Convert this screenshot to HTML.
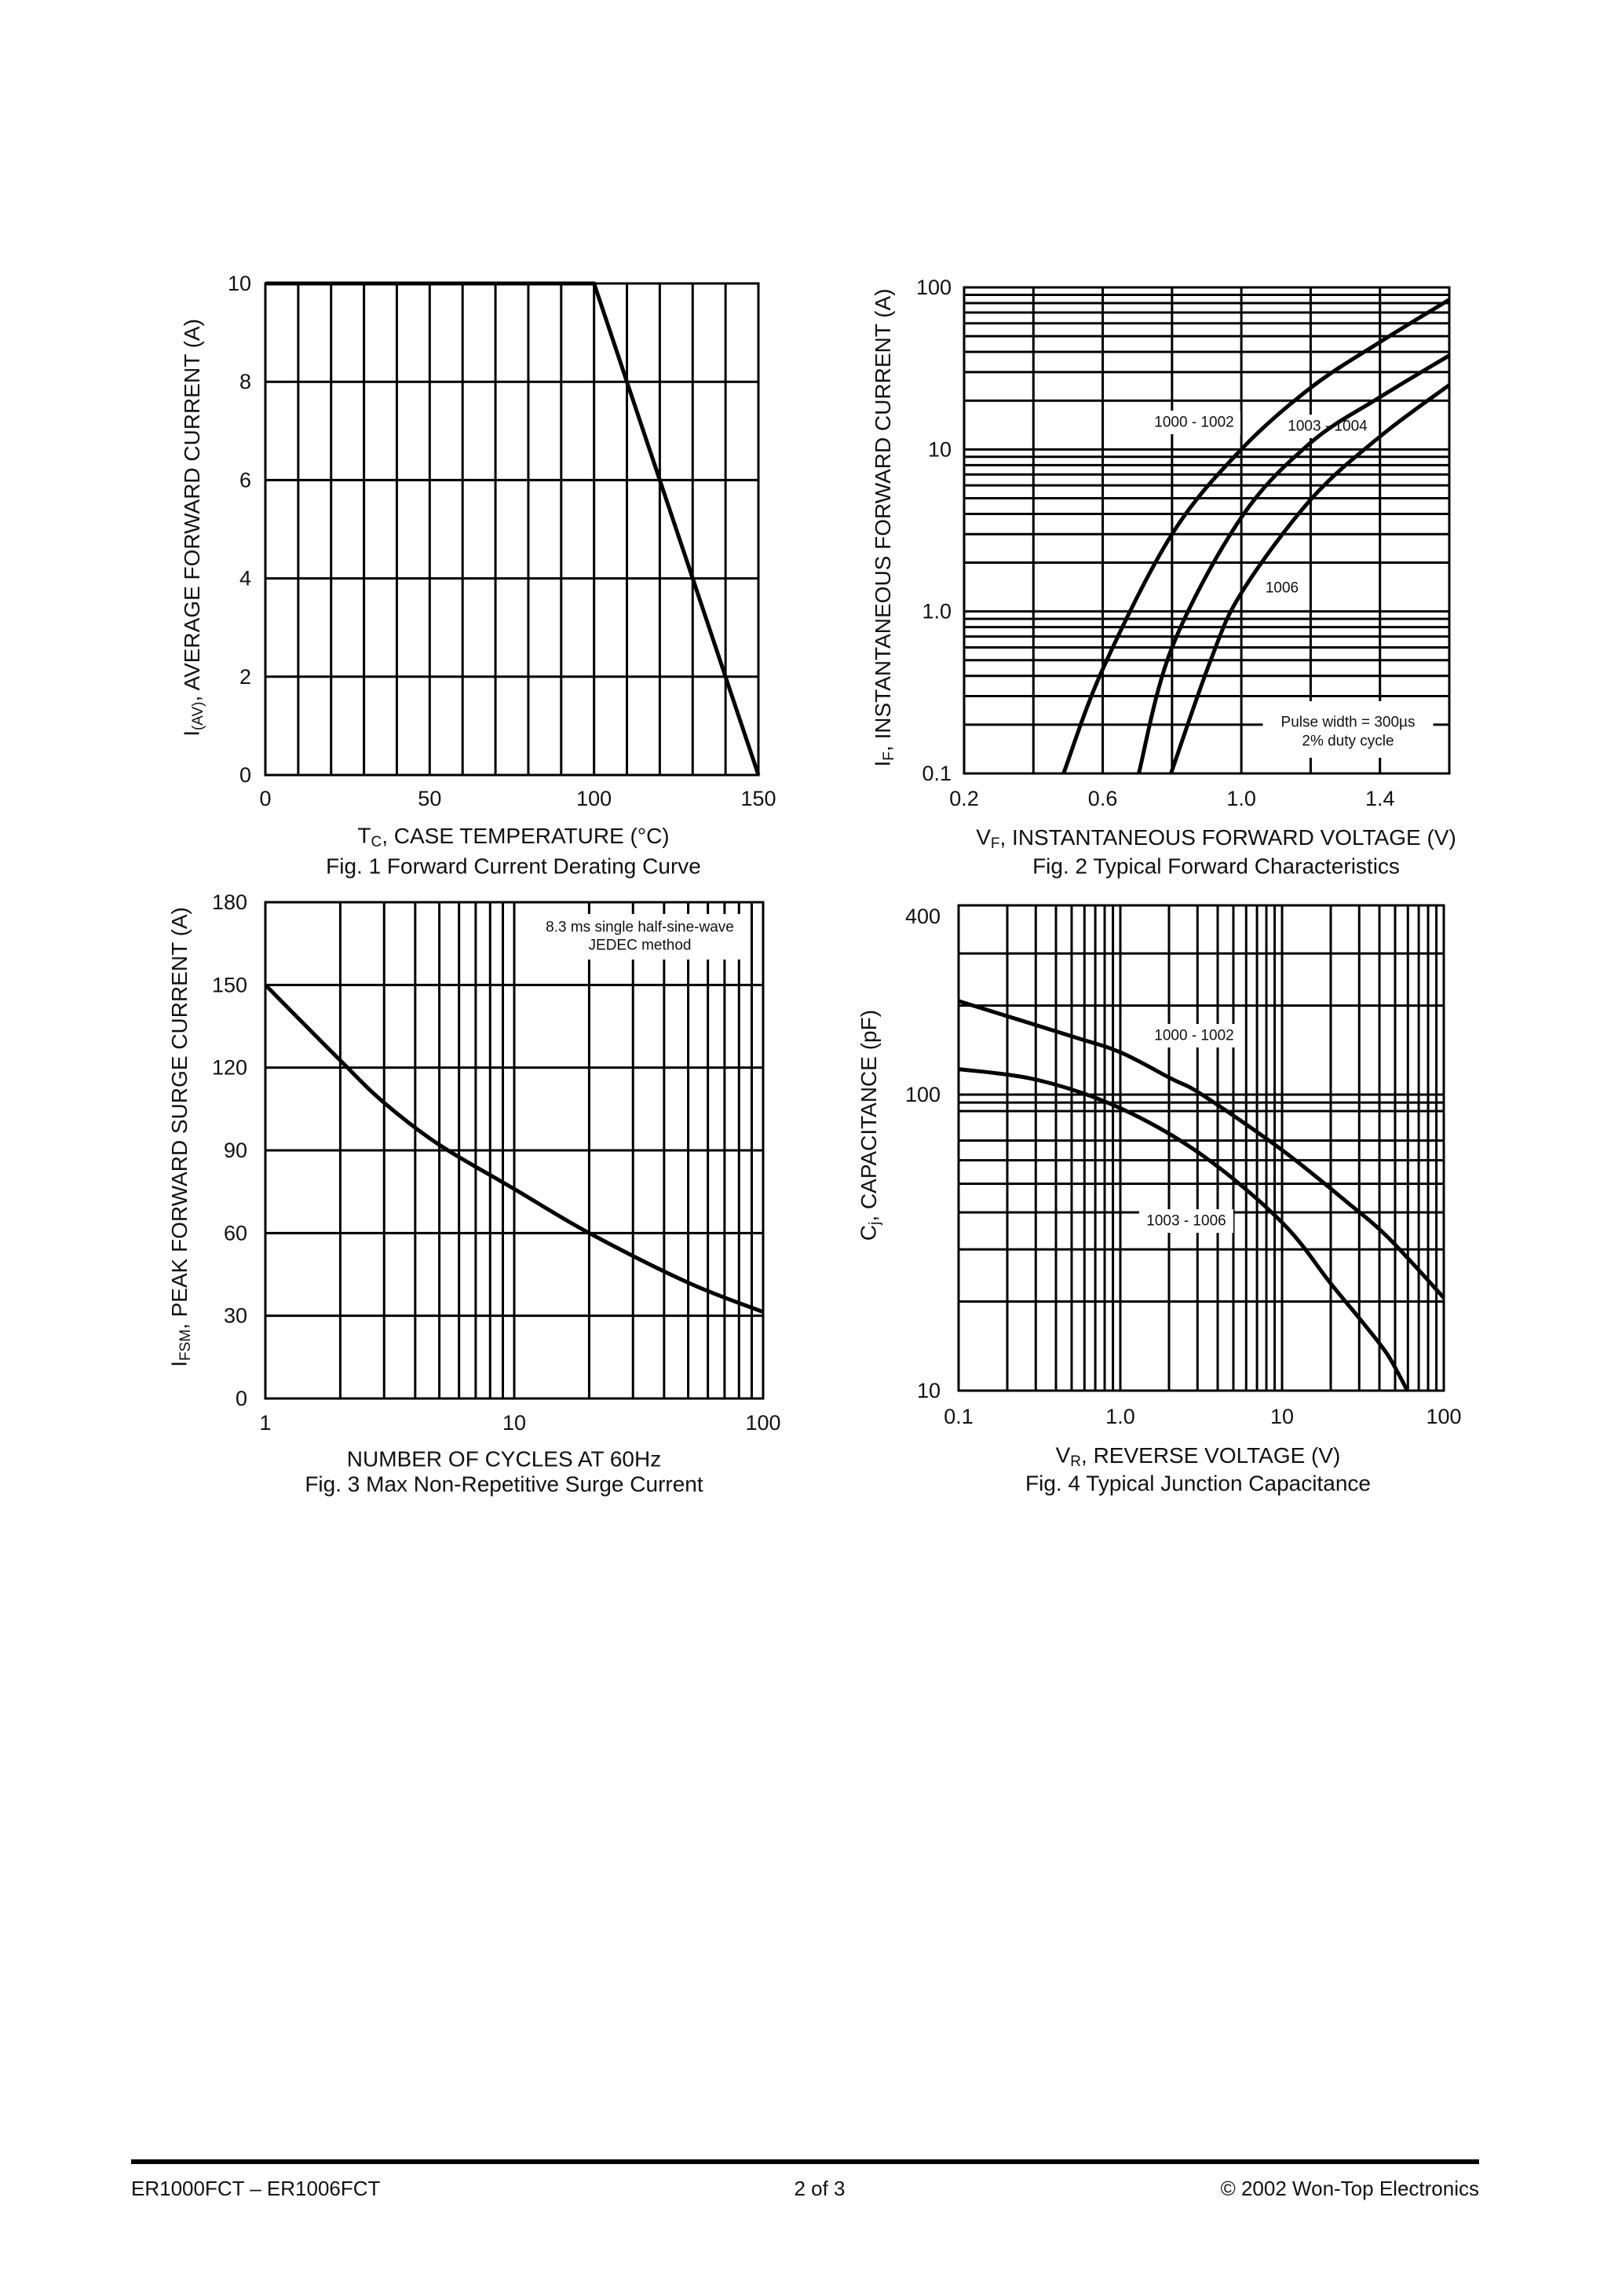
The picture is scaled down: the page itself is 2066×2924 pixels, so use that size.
<!DOCTYPE html>
<html><head><meta charset="utf-8"><style>
html,body{margin:0;padding:0;background:#fff}
svg{display:block}
text{font-family:"Liberation Sans",sans-serif;fill:#111}
</style></head><body>
<svg id="page" width="2066" height="2924" viewBox="0 0 2066 2924" xmlns="http://www.w3.org/2000/svg">
<g id="fig1"></g>
<g id="fig2"></g>
<g id="fig3"></g>
<g id="fig4"></g>
<g>
<rect x="167" y="2750" width="1717" height="6" fill="#000"/>
<text x="167" y="2796" font-size="26">ER1000FCT – ER1006FCT</text>
<text x="1044" y="2796" font-size="26" text-anchor="middle">2 of 3</text>
<text x="1884" y="2796" font-size="26" text-anchor="end">© 2002 Won-Top Electronics</text>
</g>
</svg>
<script>
// ---- Fig 1 data ----
const f1Temp = [0, 100, 110, 120, 130, 140, 150];
const f1Current = [10, 10, 8, 6, 4, 2, 0];
const f1XTicks = [0, 50, 100, 150];
const f1YTicks = [0, 2, 4, 6, 8, 10];
// ---- Fig 2 data ----
const f2V_A = [0.487, 0.6, 0.8, 1.0, 1.2, 1.4, 1.6];
const f2I_A = [0.1, 0.44, 3, 10, 24, 46, 84];
const f2V_B = [0.704, 0.8, 1.0, 1.2, 1.4, 1.6];
const f2I_B = [0.1, 0.6, 3.8, 11, 21, 38];
const f2V_C = [0.797, 0.91, 1.0, 1.2, 1.4, 1.6];
const f2I_C = [0.1, 0.49, 1.3, 4.9, 12, 25];
const f2XTicks = [0.2, 0.6, 1.0, 1.4];
const f2XTickLabels = ["0.2", "0.6", "1.0", "1.4"];
const f2YTicks = [0.1, 1, 10, 100];
const f2YTickLabels = ["0.1", "1.0", "10", "100"];
// ---- Fig 3 data ----
const f3Cycles = [1, 2, 3, 5, 10, 20, 50, 100];
const f3Current = [150, 122.6, 107.3, 92, 76, 60, 42, 31.4];
const f3XTicks = [1, 10, 100];
const f3YTicks = [0, 30, 60, 90, 120, 150, 180];
// ---- Fig 4 data ----
const f4V_A = [0.1, 0.51, 1.0, 2.08, 3.2, 10, 25, 45, 100];
const f4C_A = [207, 157, 139, 113, 100, 65, 43.5, 33, 20.6];
const f4V_B = [0.1, 0.31, 1.0, 3.2, 10, 20, 31.5, 45, 59.5];
const f4C_B = [122, 112, 90, 62.5, 37, 23, 17, 13.2, 10];
const f4XTicks = [0.1, 1, 10, 100];
const f4XTickLabels = ["0.1", "1.0", "10", "100"];
const f4YTicks = [10, 100, 400];
const f4YTickLabels = ["10", "100", "400"];
const f4YGrid = [20, 30, 40, 50, 60, 70, 88, 94, 100, 200, 300];

const NS = "http://www.w3.org/2000/svg";
function mk(parent, tag, attrs, txt){
  const e = document.createElementNS(NS, tag);
  for (const k in attrs) e.setAttribute(k, attrs[k]);
  if (txt !== undefined) e.textContent = txt;
  parent.appendChild(e);
  return e;
}
function linScale(d0,d1,r0,r1){return v=>r0+(v-d0)/(d1-d0)*(r1-r0);}
function logScale(d0,d1,r0,r1){return v=>r0+(Math.log10(v)-Math.log10(d0))/(Math.log10(d1)-Math.log10(d0))*(r1-r0);}
function vline(g,x,y0,y1,w){
  const l = mk(g,'line',{x1:x,x2:x,y1:y0,y2:y1,stroke:'#000','stroke-width':w||3});
  
  
}
function hline(g,y,x0,x1,w){
  const l = mk(g,'line',{x1:x0,x2:x1,y1:y,y2:y,stroke:'#000','stroke-width':w||3});
  
  
}
function curve(g,xs,ys,sx,sy,name,smooth){
  const P = xs.map((v,i)=>[sx(v), sy(ys[i])]);
  let d='M'+P[0][0].toFixed(1)+','+P[0][1].toFixed(1);
  for(let i=0;i<P.length-1;i++){
    if(!smooth){ d+='L'+P[i+1][0].toFixed(1)+','+P[i+1][1].toFixed(1); continue; }
    const p0=P[Math.max(0,i-1)], p1=P[i], p2=P[i+1], p3=P[Math.min(P.length-1,i+2)];
    const c1=[p1[0]+(p2[0]-p0[0])/6, p1[1]+(p2[1]-p0[1])/6];
    const c2=[p2[0]-(p3[0]-p1[0])/6, p2[1]-(p3[1]-p1[1])/6];
    d+='C'+c1[0].toFixed(1)+','+c1[1].toFixed(1)+' '+c2[0].toFixed(1)+','+c2[1].toFixed(1)+' '+p2[0].toFixed(1)+','+p2[1].toFixed(1);
  }
  const p = mk(g,'path',{d:d,fill:'none',stroke:'#000','stroke-width':5,'stroke-linejoin':'round'});
  
  
}
function txt(g,x,y,s,size,anchor,name,rot){
  const a={x:x,y:y,'font-size':size,'text-anchor':anchor||'middle','dominant-baseline':'central'};
  if(rot) a.transform='rotate(-90 '+x+' '+y+')';
  const t = mk(g,'text',a);
  
  
  t.innerHTML = s;
  return t;
}
function labelBox(g,x,y,w,h,name){
  const r = mk(g,'rect',{x:x-w/2,y:y-h/2,width:w,height:h,fill:'#fff'});
  
  
}
function frame(g,L,T,R,B){
  const r = mk(g,'rect',{x:L,y:T,width:R-L,height:B-T,fill:'none',stroke:'#000','stroke-width':3});
  
  
}

// ===== Fig 1 =====
(function(){
  const g=document.getElementById('fig1');
  const L=338,R=966,T=361,B=987;
  const sx=linScale(0,150,L,R), sy=linScale(0,10,B,T);
  for(let v=10;v<150;v+=10) vline(g,sx(v),T,B);
  for(let v=2;v<10;v+=2) hline(g,sy(v),L,R);
  frame(g,L,T,R,B);
  curve(g,f1Temp,f1Current,sx,sy,'derating-curve',false);
  f1YTicks.forEach(v=>txt(g,320,sy(v),v,27,'end','y-tick-label'));
  f1XTicks.forEach(v=>txt(g,sx(v),1017,v,27,'middle','x-tick-label'));
  txt(g,654,1064,'T<tspan font-size="19" dy="8">C</tspan><tspan dy="-8">, CASE TEMPERATURE (°C)</tspan>',28,'middle','x-axis-title');
  txt(g,654,1103,'Fig. 1  Forward Current Derating Curve',28,'middle','figure-caption');
  txt(g,244,672,'I<tspan font-size="19" dy="8">(AV)</tspan><tspan dy="-8">, AVERAGE FORWARD CURRENT (A)</tspan>',28,'middle','y-axis-title',true);
})();

// ===== Fig 2 =====
(function(){
  const g=document.getElementById('fig2');
  const L=1228,R=1846,T=366,B=985;
  const sx=linScale(0.2,1.6,L,R), sy=logScale(0.1,100,B,T);
  for(let i=1;i<7;i++) vline(g,sx(0.2+i*0.2),T,B);
  [0.1,1,10].forEach(d=>{for(let k=1;k<=9;k++){if(d*k>0.1) hline(g,sy(d*k),L,R);}});
  labelBox(g,1717,929,217,72,'pulse-note-background');
  labelBox(g,1521,538,118,30,'label-bg-1000-1002');
  labelBox(g,1691,543,118,30,'label-bg-1003-1004');
  labelBox(g,1633,749,54,30,'label-bg-1006');
  frame(g,L,T,R,B);
  curve(g,f2V_A,f2I_A,sx,sy,'curve-1000-1002',true);
  curve(g,f2V_B,f2I_B,sx,sy,'curve-1003-1004',true);
  curve(g,f2V_C,f2I_C,sx,sy,'curve-1006',true);
  txt(g,1521,538,'1000 - 1002',19,'middle','series-label-1000-1002');
  txt(g,1691,543,'1003 - 1004',19,'middle','series-label-1003-1004');
  txt(g,1633,749,'1006',19,'middle','series-label-1006');
  txt(g,1717,920,'Pulse width = 300µs',19,'middle','pulse-note-line1');
  txt(g,1717,944,'2% duty cycle',19,'middle','pulse-note-line2');
  f2YTicks.forEach((v,i)=>txt(g,1212,sy(v),f2YTickLabels[i],27,'end','y-tick-label'));
  f2XTicks.forEach((v,i)=>txt(g,sx(v),1017,f2XTickLabels[i],27,'middle','x-tick-label'));
  txt(g,1549,1066,'V<tspan font-size="19" dy="8">F</tspan><tspan dy="-8">, INSTANTANEOUS FORWARD VOLTAGE (V)</tspan>',28,'middle','x-axis-title');
  txt(g,1549,1103,'Fig. 2  Typical Forward Characteristics',28,'middle','figure-caption');
  txt(g,1124,672,'I<tspan font-size="19" dy="8">F</tspan><tspan dy="-8">, INSTANTANEOUS FORWARD CURRENT (A)</tspan>',28,'middle','y-axis-title',true);
})();

// ===== Fig 3 =====
(function(){
  const g=document.getElementById('fig3');
  const L=338,R=972,T=1149,B=1781;
  const sx=logScale(1,100,L,R), sy=linScale(0,180,B,T);
  [1,10].forEach(d=>{for(let k=2;k<=10;k++){if(d*k<100) vline(g,sx(d*k),T,B);}});
  for(let v=30;v<180;v+=30) hline(g,sy(v),L,R);
  labelBox(g,815,1193,270,58,'note-background');
  frame(g,L,T,R,B);
  curve(g,f3Cycles,f3Current,sx,sy,'surge-curve',true);
  txt(g,815,1181,'8.3 ms single half-sine-wave',19,'middle','note-line1');
  txt(g,815,1204,'JEDEC method',19,'middle','note-line2');
  f3YTicks.forEach(v=>txt(g,315,sy(v),v,27,'end','y-tick-label'));
  f3XTicks.forEach(v=>txt(g,sx(v),1812,v,27,'middle','x-tick-label'));
  txt(g,642,1858,'NUMBER OF CYCLES AT 60Hz',28,'middle','x-axis-title');
  txt(g,642,1890,'Fig. 3  Max Non-Repetitive Surge Current',28,'middle','figure-caption');
  txt(g,228,1448,'I<tspan font-size="19" dy="8">FSM</tspan><tspan dy="-8">, PEAK FORWARD SURGE CURRENT (A)</tspan>',28,'middle','y-axis-title',true);
})();

// ===== Fig 4 =====
(function(){
  const g=document.getElementById('fig4');
  const L=1221,R=1839,T=1153,B=1771;
  const sx=logScale(0.1,100,L,R), sy=logScale(10,436,B,T);
  [0.1,1,10].forEach(d=>{for(let k=2;k<=10;k++){if(d*k<100) vline(g,sx(d*k),T,B);}});
  f4YGrid.forEach(v=>hline(g,sy(v),L,R));
  labelBox(g,1521,1319,120,30,'label-bg-1000-1002');
  labelBox(g,1511,1555,120,30,'label-bg-1003-1006');
  frame(g,L,T,R,B);
  curve(g,f4V_A,f4C_A,sx,sy,'curve-1000-1002',true);
  curve(g,f4V_B,f4C_B,sx,sy,'curve-1003-1006',true);
  txt(g,1521,1319,'1000 - 1002',19,'middle','series-label-1000-1002');
  txt(g,1511,1555,'1003 - 1006',19,'middle','series-label-1003-1006');
  f4YTicks.forEach((v,i)=>txt(g,1198,sy(v),f4YTickLabels[i],27,'end','y-tick-label'));
  f4XTicks.forEach((v,i)=>txt(g,sx(v),1804,f4XTickLabels[i],27,'middle','x-tick-label'));
  txt(g,1526,1853,'V<tspan font-size="19" dy="8">R</tspan><tspan dy="-8">, REVERSE VOLTAGE (V)</tspan>',28,'middle','x-axis-title');
  txt(g,1526,1889,'Fig. 4  Typical Junction Capacitance',28,'middle','figure-caption');
  txt(g,1106,1433,'C<tspan font-size="19" dy="8">j</tspan><tspan dy="-8">, CAPACITANCE (pF)</tspan>',28,'middle','y-axis-title',true);
})();
</script>
</body></html>
